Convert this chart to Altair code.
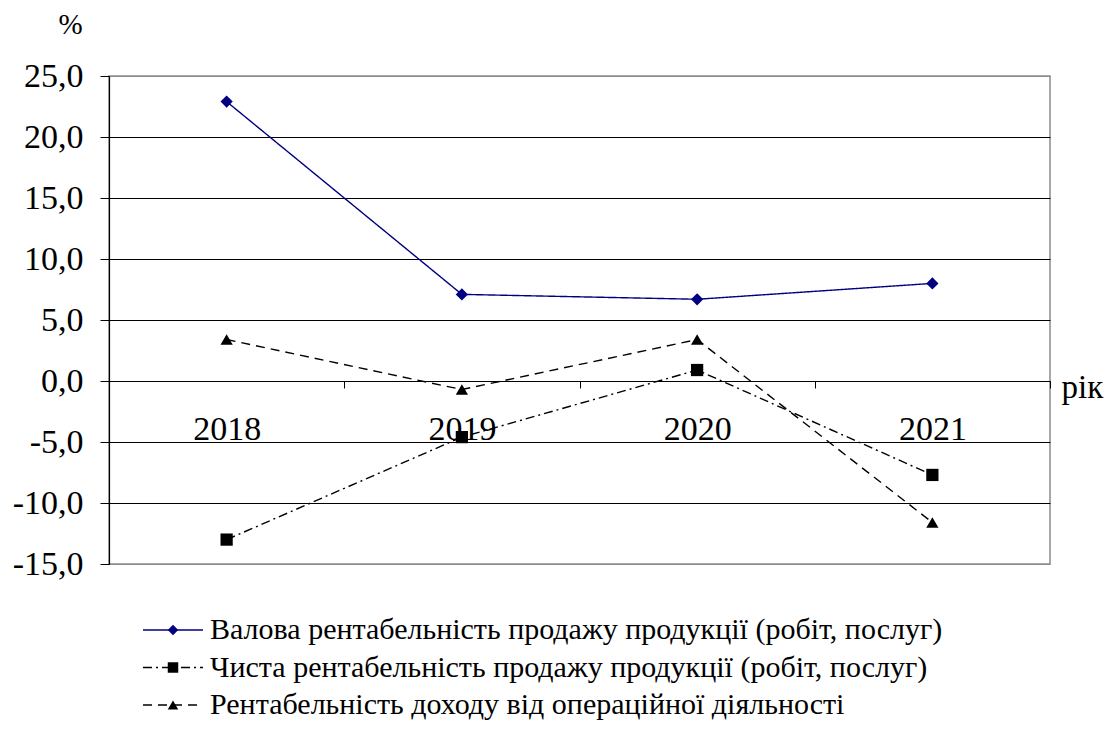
import altair as alt
import pandas as pd

years = ["2018", "2019", "2020", "2021"]
series_names = [
    "Валова рентабельність продажу продукції (робіт, послуг)",
    "Чиста рентабельність продажу продукції (робіт, послуг)",
    "Рентабельність доходу від операційної діяльності",
]
valova = [22.9, 7.1, 6.7, 8.0]
chysta = [-13.0, -4.6, 0.9, -7.7]
operating = [3.4, -0.7, 3.4, -11.6]

rows = []
for name, vals in zip(series_names, [valova, chysta, operating]):
    for y, v in zip(years, vals):
        rows.append({"year": y, "series": name, "value": v})
df = pd.DataFrame(rows)
legend_df = pd.DataFrame({"series": series_names})

FONT = "Times New Roman, Liberation Serif, serif"
W, H = 941, 488

color_scale = alt.Scale(domain=series_names, range=["#000080", "#000000", "#000000"])
shape_scale = alt.Scale(domain=series_names, range=["diamond", "square", "triangle-up"])
dash_scale = alt.Scale(domain=series_names, range=[[1, 0], [9, 4, 2, 4], [9, 6]])

x_enc = alt.X(
    "year:N",
    sort=years,
    scale=alt.Scale(paddingInner=0, paddingOuter=0),
    axis=alt.Axis(
        orient="bottom",
        offset=-183,
        tickBand="extent",
        labelAngle=0,
        labelFont=FONT,
        labelFontSize=34,
        labelColor="black",
        labelPadding=24,
        domainColor="black",
        domainWidth=1.2,
        tickColor="black",
        tickSize=7,
        grid=False,
        title="рік",
        titleFont=FONT,
        titleFontSize=33,
        titleFontWeight="normal",
        titleColor="black",
        titleX=952,
        titleY=6,
        titleAlign="left",
        titleBaseline="middle",
        titleAngle=0,
    ),
)

y_scale = alt.Scale(domain=[-15, 25], nice=False, zero=False)

y_axis = alt.Axis(
    values=[-15, -10, -5, 0, 5, 10, 15, 20, 25],
    labelExpr="replace(replace(format(datum.value, '.1f'), '.', ','), '\u2212', '-')",
    labelFont=FONT,
    labelFontSize=34,
    labelColor="black",
    labelPadding=17,
    domainColor="black",
    domainWidth=1.2,
    tickColor="black",
    tickSize=9,
    grid=True,
    gridColor={"condition": {"test": "datum.value == 25 || datum.value == -15", "value": "#8c8c8c"}, "value": "#000000"},
    gridWidth=1.2,
    title="%",
    titleFont=FONT,
    titleFontSize=29,
    titleFontWeight="normal",
    titleColor="black",
    titleAngle=0,
    titleX=-39,
    titleY=-52,
    titleAlign="center",
    titleBaseline="middle",
)

base = alt.Chart(df)

lines = base.mark_line(strokeWidth=1.4).encode(
    x=x_enc,
    y=alt.Y("value:Q", scale=y_scale, axis=y_axis),
    color=alt.Color("series:N", scale=color_scale, legend=None),
    strokeDash=alt.StrokeDash("series:N", scale=dash_scale, legend=None),
    detail="series:N",
)

points = base.mark_point(filled=True, opacity=1).encode(
    x=alt.X("year:N", sort=years),
    y=alt.Y("value:Q", scale=y_scale, axis=None),
    color=alt.Color("series:N", scale=color_scale, legend=None),
    shape=alt.Shape("series:N", scale=shape_scale, legend=None),
    size=alt.value(150),
)


def leg_y():
    return alt.Y("series:N", sort=series_names,
                 scale=alt.Scale(type="point", domain=series_names, range=[554, 629], padding=0),
                 axis=None)


leg_base = alt.Chart(legend_df)
leg_rules = leg_base.mark_rule(strokeWidth=1.4).encode(
    x=alt.value(34), x2=alt.value(94), y=leg_y(),
    color=alt.Color("series:N", scale=color_scale, legend=None),
    strokeDash=alt.StrokeDash("series:N", scale=dash_scale, legend=None),
)
leg_pts = leg_base.mark_point(filled=True, opacity=1).encode(
    x=alt.value(64), y=leg_y(),
    color=alt.Color("series:N", scale=color_scale, legend=None),
    shape=alt.Shape("series:N", scale=shape_scale, legend=None),
    size=alt.value(110),
)
leg_text = leg_base.mark_text(align="left", baseline="middle", font=FONT, fontSize=30, color="black").encode(
    x=alt.value(101), y=leg_y(), text="series:N",
)

chart = alt.layer(lines, points, leg_rules, leg_pts, leg_text).resolve_scale(y="independent").properties(
    width=W,
    height=H,
    padding={"left": 109, "top": 76, "right": 64, "bottom": 173},
    autosize=alt.AutoSizeParams(type="none"),
    background="white",
).configure(font=FONT).configure_view(stroke="#8c8c8c", strokeWidth=1.5).configure_text(font=FONT, fontSize=30)

chart.save("out.html", embed_options={"renderer": "svg", "actions": False})
